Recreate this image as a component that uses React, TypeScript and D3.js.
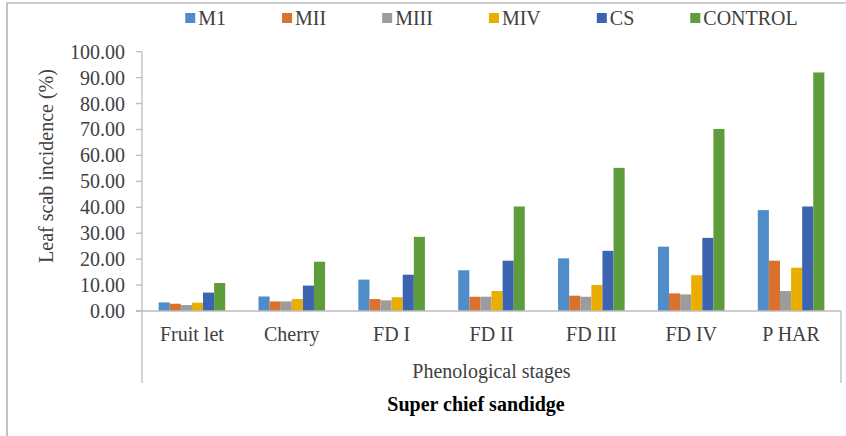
import { useEffect, useRef } from "react";
import * as d3 from "d3";

const stages = ["Fruit let", "Cherry", "FD I", "FD II", "FD III", "FD IV", "P HAR"];
const seriesNames = ["M1", "MII", "MIII", "MIV", "CS", "CONTROL"];
const seriesColors = ["#4F8CC9", "#DA722D", "#9C9C9C", "#EAAE00", "#3D64B1", "#5F9C3C"];

const m1 = [3.3, 5.6, 12.1, 15.7, 20.3, 24.8, 38.9];
const m2 = [2.8, 3.7, 4.6, 5.5, 5.9, 6.8, 19.4];
const m3 = [2.3, 3.7, 4.1, 5.5, 5.5, 6.4, 7.7];
const m4 = [3.2, 4.6, 5.3, 7.7, 10.0, 13.8, 16.7];
const cs = [7.1, 9.8, 14.0, 19.4, 23.2, 28.2, 40.3];
const control = [10.8, 19.0, 28.6, 40.3, 55.2, 70.2, 92.0];

const yTicks = [0, 10, 20, 30, 40, 50, 60, 70, 80, 90, 100];

const W = 846;
const H = 436;
const FONT = "'Liberation Serif', 'Times New Roman', serif";

export default function App() {
    const svgRef = useRef<SVGSVGElement>(null);

    useEffect(() => {
        const svgEl = svgRef.current;
        if (!svgEl) return;

        const values = [m1, m2, m3, m4, cs, control];
        const left = 142;
        const right = 841;
        const top = 51.7;
        const bottom = 311;

        d3.select(svgEl).selectAll("*").remove();
        const svg = d3.select(svgEl);

        // outer frame (only left/top visible in the crop)
        svg.append("path")
            .attr("d", `M7,${H + 2}V3H${W + 2}`)
            .attr("fill", "none")
            .attr("stroke", "#9a9a9a")
            .attr("stroke-width", 1.2);

        const x0 = d3.scaleBand<string>()
            .domain(stages)
            .range([left, right])
            .paddingInner(1 / 3)
            .paddingOuter(1 / 6);
        const x1 = d3.scaleBand<string>()
            .domain(seriesNames)
            .range([0, x0.bandwidth()]);
        const y = d3.scaleLinear().domain([0, 100]).range([bottom, top]);

        // bars
        const groups = svg.append("g")
            .selectAll("g")
            .data(stages)
            .join("g")
            .attr("transform", d => `translate(${x0(d)},0)`);
        groups.selectAll("rect")
            .data((_, i) => seriesNames.map((s, k) => ({ s, k, v: values[k][i] })))
            .join("rect")
            .attr("x", d => x1(d.s)!)
            .attr("width", x1.bandwidth())
            .attr("y", d => y(d.v))
            .attr("height", d => y(0) - y(d.v))
            .attr("fill", d => seriesColors[d.k]);

        const axisColor = "#bdbdbd";

        // y axis
        svg.append("line")
            .attr("x1", left).attr("x2", left)
            .attr("y1", y(100)).attr("y2", bottom)
            .attr("stroke", axisColor).attr("stroke-width", 1.3);
        svg.append("g")
            .selectAll("line")
            .data(yTicks)
            .join("line")
            .attr("x1", left - 6).attr("x2", left)
            .attr("y1", d => y(d)).attr("y2", d => y(d))
            .attr("stroke", axisColor).attr("stroke-width", 1.3);
        svg.append("g")
            .selectAll("text")
            .data(yTicks)
            .join("text")
            .attr("x", 125)
            .attr("y", d => y(d))
            .attr("dy", "0.35em")
            .attr("text-anchor", "end")
            .attr("font-family", FONT)
            .attr("font-size", "20px")
            .attr("fill", "#404040")
            .text(d => d3.format(".2f")(d));

        // x axis with multi-level frame
        svg.append("line")
            .attr("x1", left - 6).attr("x2", right)
            .attr("y1", bottom).attr("y2", bottom)
            .attr("stroke", axisColor).attr("stroke-width", 1.3);
        svg.append("g")
            .selectAll("line")
            .data(x0.range())
            .join("line")
            .attr("x1", d => d).attr("x2", d => d)
            .attr("y1", bottom).attr("y2", 383)
            .attr("stroke", axisColor).attr("stroke-width", 1.3);
        svg.append("g")
            .selectAll("text")
            .data(stages)
            .join("text")
            .attr("x", d => x0(d)! + x0.bandwidth() / 2)
            .attr("y", 341)
            .attr("text-anchor", "middle")
            .attr("font-family", FONT)
            .attr("font-size", "20px")
            .attr("fill", "#404040")
            .text(d => d);

        svg.append("text")
            .attr("x", (left + right) / 2)
            .attr("y", 378)
            .attr("text-anchor", "middle")
            .attr("font-family", FONT)
            .attr("font-size", "20px")
            .attr("fill", "#404040")
            .text("Phenological stages");

        svg.append("text")
            .attr("transform", `translate(53,166) rotate(-90)`)
            .attr("text-anchor", "middle")
            .attr("font-family", FONT)
            .attr("font-size", "20px")
            .attr("fill", "#404040")
            .text("Leaf scab incidence (%)");

        svg.append("text")
            .attr("x", 476)
            .attr("y", 411)
            .attr("text-anchor", "middle")
            .attr("font-family", FONT)
            .attr("font-size", "20px")
            .attr("font-weight", "bold")
            .attr("fill", "#000")
            .text("Super chief sandidge");

        // legend, laid out from measured text widths and centred over the plot
        const legend = svg.append("g");
        const items = legend.selectAll("g")
            .data(seriesNames)
            .join("g");
        items.append("rect")
            .attr("width", 10).attr("height", 10)
            .attr("y", 13)
            .attr("fill", (_, k) => seriesColors[k]);
        items.append("text")
            .attr("x", 13)
            .attr("y", 25)
            .attr("font-family", FONT)
            .attr("font-size", "20px")
            .attr("fill", "#404040")
            .text(d => d);
        const widths: number[] = [];
        items.select("text").each(function () {
            widths.push(13 + (this as SVGTextElement).getComputedTextLength());
        });
        const gap = 56;
        const total = d3.sum(widths) + gap * (widths.length - 1);
        let cx = (left + right) / 2 - total / 2;
        items.attr("transform", (_, k) => {
            const t = `translate(${cx},0)`;
            cx += widths[k] + gap;
            return t;
        });
    }, []);

    return (
        <svg
            ref={svgRef}
            width={W}
            height={H}
            style={{ position: "absolute", left: 0, top: 0, background: "#fff" }}
        />
    );
}
